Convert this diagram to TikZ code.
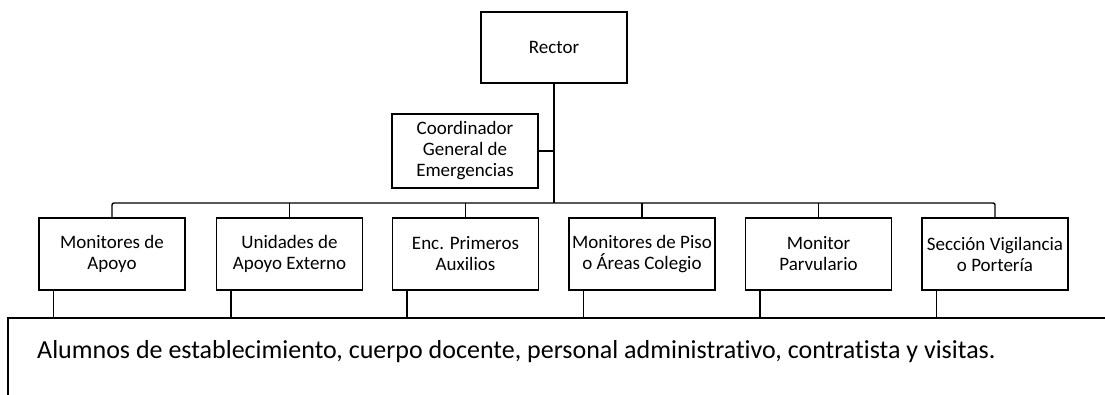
\documentclass[tikz,border=0pt]{standalone}
\usepackage{fontspec}
\setmainfont{Carlito}[Ligatures=NoCommon]
\usepackage{tikz}
\usetikzlibrary{calc}

\begin{document}
\begin{tikzpicture}[x=1pt, y=-1pt,
    cargo/.style={draw, line width=1.4pt, minimum width=146pt, minimum height=72pt,
      align=center, inner sep=1pt, font=\fontsize{19}{21}\selectfont},
    enlace/.style={line width=1.4pt},
    tronco/.style={line width=1.8pt}]

\clip (0,0) rectangle (1105,394);

% Rector and coordinator
\node[cargo, minimum height=71pt] (rector) at (554,47.5) {Rector};
\node[cargo, minimum height=74pt] (coord) at (465,151) {Coordinador\\General de\\Emergencias};

% Monitors row
\node[cargo] (m1) at (112,254) {Monitores de\\Apoyo};
\node[cargo] (m2) at (289.5,254) {Unidades de\\Apoyo Externo};
\node[cargo] (m3) at (465.5,254) {Enc. Primeros\\Auxilios};
\node[cargo] (m4) at (642,254) {Monitores de Piso\\o Áreas Colegio};
\node[cargo] (m5) at (818.5,254) {Monitor\\Parvulario};
\node[cargo] (m6) at (995,254) {Sección Vigilancia\\o Portería};

% Bus lines
\coordinate (bus) at (0,203);
\coordinate (base) at (8,318);
\draw[tronco] (rector.south) -- (rector.south |- bus);
\draw[enlace] (coord.east) -- (coord.east -| rector.south);
\draw[enlace, rounded corners=2pt] (m1.north) |- (bus -| m6.north) -- (m6.north);
\foreach \i in {2,...,5}
  \draw[enlace] (m\i.north) -- (m\i.north |- bus);

% Community
\draw[enlace] (1110,318) -- (base) -- (8,400);
\foreach \i in {1,...,6}
  \draw[enlace] ([xshift=15pt]m\i.south west) -- ([xshift=15pt]m\i.south west |- base);
\node[anchor=base west, inner sep=0pt, font=\fontsize{26}{30}\selectfont] (alumnos) at (37,358)
  {Alumnos de establecimiento, cuerpo docente, personal administrativo, contratista y visitas.};

\end{tikzpicture}
\end{document}
